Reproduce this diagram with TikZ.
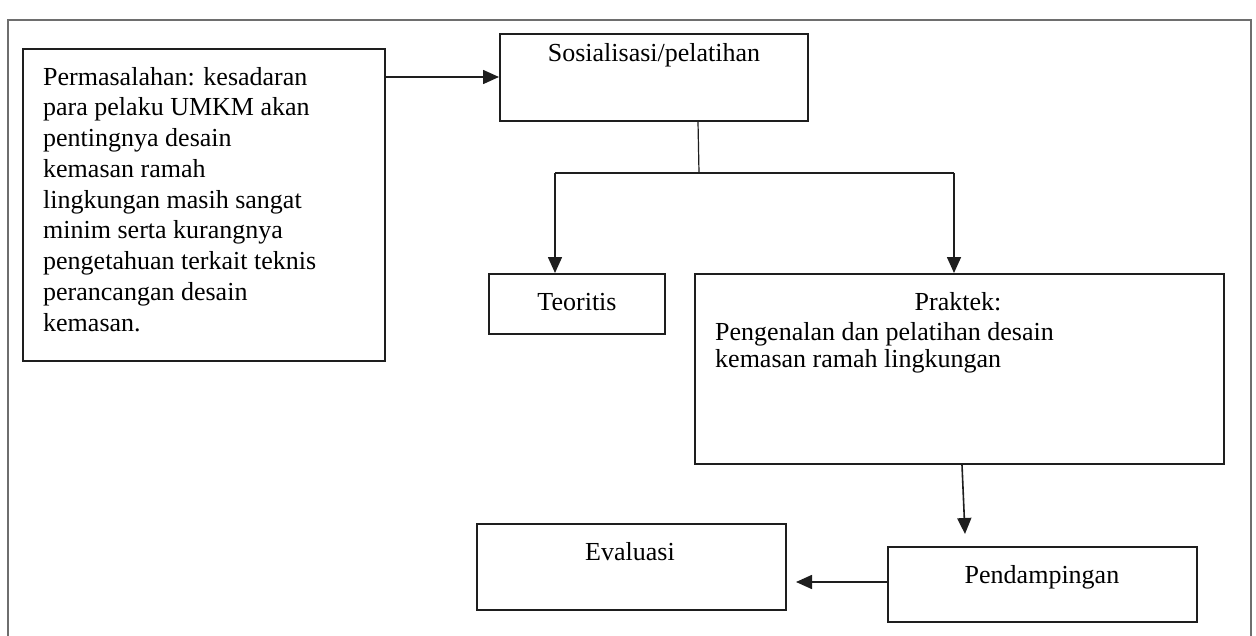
\documentclass[tikz,border=0pt]{standalone}
\usepackage{fontspec}
\setmainfont{Liberation Serif}
\usetikzlibrary{arrows.meta}
\definecolor{framegray}{RGB}{110,110,110}
\definecolor{boxline}{RGB}{30,30,30}
\begin{document}
\begin{tikzpicture}[x=1pt,y=-1pt,
  boxnode/.style={draw=boxline,line width=2pt,anchor=north west,inner sep=0pt,minimum width=#1},
  txt/.style={inner sep=0pt,font=\fontsize{26}{30.75}\selectfont},
  conn/.style={line width=1.6pt,draw=boxline},
  arr/.style={conn,-{Triangle[length=16pt,width=14pt]}}]
\useasboundingbox (0,0) rectangle (1256,635);
\fill[white] (0,0) rectangle (1256,635);
% outer frame (open at the bottom)
\draw[framegray,line width=1.3pt] (8,640) -- (8,20) -- (1251,20) -- (1251,640);
% boxes
\node[boxnode=362pt,minimum height=312pt] (prob) at (22,48) {};
\node[boxnode=308pt,minimum height=87pt,line width=1.5pt] (sos) at (499,33) {};
\node[boxnode=176pt,minimum height=60pt] (teo) at (488,273) {};
\node[boxnode=529pt,minimum height=190pt] (prak) at (694,273) {};
\node[boxnode=309pt,minimum height=86pt] (eva) at (476,523) {};
\node[boxnode=309pt,minimum height=75pt] (pend) at (887,546) {};
% texts
\node[txt,align=left,anchor=base west] (probT) at (43,331)
 {Permasalahan: kesadaran\\para pelaku UMKM akan\\pentingnya desain\\kemasan ramah\\lingkungan masih sangat\\minim serta kurangnya\\pengetahuan terkait teknis\\perancangan desain\\kemasan.};
\node[txt,anchor=base] (sosT) at (654,61) {Sosialisasi/pelatihan};
\node[txt,anchor=base] (teoT) at (577,310) {Teoritis};
\node[txt,anchor=base] (prakT) at (958,310) {Praktek:};
\node[txt,font=\fontsize{26}{27}\selectfont,align=left,anchor=base west] (prakD) at (715,367) {Pengenalan dan pelatihan desain\\kemasan ramah lingkungan};
\node[txt,anchor=base] (evaT) at (630,560) {Evaluasi};
\node[txt,anchor=base] (pendT) at (1042,583) {Pendampingan};
% connectors
\coordinate (j) at (699,173);
\coordinate (jl) at (555,173);
\coordinate (jr) at (954,173);
\draw[arr] (prob.east |- 0,77) -- (sos.west |- 0,77);
\draw[conn,line width=1.2pt] (sos.south -| 698,0) -- (j);
\draw[conn,line width=1.2pt] (jl) -- (jr);
\draw[arr] (jl) -- (jl |- teo.north);
\draw[arr] (jr) -- (jr |- prak.north);
\draw[arr] (prak.south -| 962,0) -- (965,534);
\draw[arr] (pend.west |- 0,582) -- (796,582);
\end{tikzpicture}
\end{document}
